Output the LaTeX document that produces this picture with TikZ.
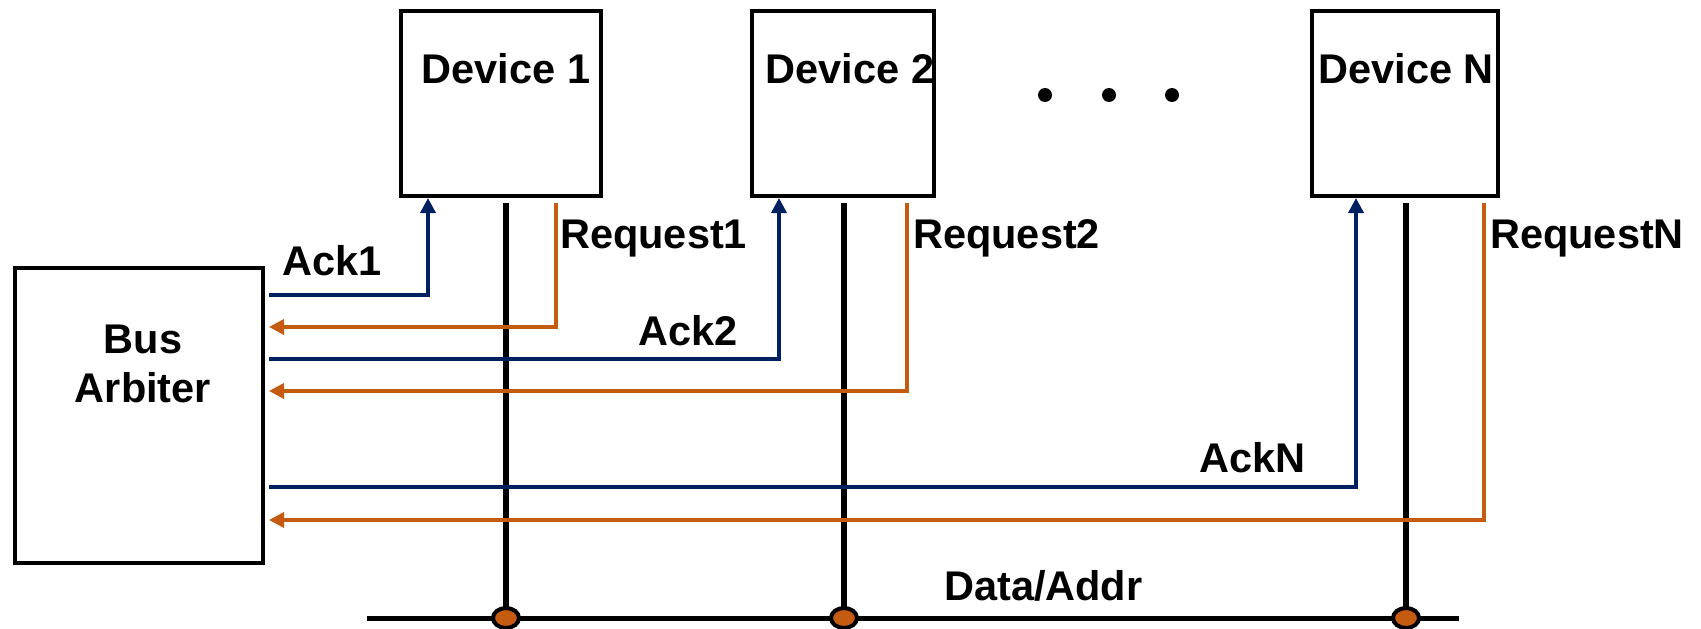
\documentclass[tikz,border=0pt]{standalone}
\usepackage{fontspec}
\setmainfont{Liberation Sans}
\usetikzlibrary{arrows.meta,shapes.geometric}
\definecolor{ackblue}{RGB}{0,32,96}
\definecolor{reqorange}{RGB}{197,90,17}
\begin{document}
\begin{tikzpicture}[x=1pt,y=-1pt,
  box/.style={draw=black,line width=4pt,fill=white,inner sep=0pt},
  lbl/.style={font=\fontsize{41.5}{48}\selectfont\bfseries,inner sep=0pt,anchor=base west},
  clbl/.style={font=\fontsize{41.5}{48}\selectfont\bfseries,inner sep=0pt,anchor=base},
  ack/.style={draw=ackblue,line width=3.5pt,-{Triangle[length=15pt,width=15pt]},shorten <=4pt},
  req/.style={draw=reqorange,line width=3.5pt,-{Triangle[length=15pt,width=15pt]},shorten <=5pt,shorten >=4pt},
  dline/.style={draw=black,line width=5.5pt,shorten <=5pt},
  busline/.style={draw=black,line width=5pt},
  tap/.style={ellipse,draw=black,line width=4pt,fill=reqorange,minimum width=26pt,minimum height=20pt,inner sep=0pt},
  dot/.style={circle,fill=black,minimum size=14pt,inner sep=0pt}
]
\useasboundingbox (0,0) rectangle (1701,629);

% boxes
\node[box,minimum width=248pt,minimum height=295pt] (arb) at (139,415.5) {};
\node[box,minimum width=200pt,minimum height=185pt] (d1) at (501,103.5) {};
\node[box,minimum width=182pt,minimum height=185pt] (d2) at (843,103.5) {};
\node[box,minimum width=186pt,minimum height=185pt] (dN) at (1405,103.5) {};

% box texts
\node[clbl] (arbt1) at (143,353) {Bus};
\node[clbl] (arbt2) at (143,402) {Arbiter};
\node[clbl] (d1t) at (506,83) {Device 1};
\node[clbl] (d2t) at (850,83) {Device 2};
\node[clbl] (dNt) at (1406,83) {Device N};

% ellipsis dots
\node[dot] (dot1) at (1045,95) {};
\node[dot] (dot2) at (1109,95) {};
\node[dot] (dot3) at (1172,95) {};

% wire positions
\coordinate (a1) at (428,295);
\coordinate (r1) at (556,327);
\coordinate (a2) at (779,359);
\coordinate (r2) at (907,391);
\coordinate (aN) at (1356,487);
\coordinate (rN) at (1484,520);

% bus
\coordinate (busL) at (367,618);
\coordinate (busR) at (1459,618);
\draw[busline] (busL) -- (busR);

\coordinate (t1p) at (506,618);
\coordinate (t2p) at (844,618);
\coordinate (tNp) at (1406,618);

% data lines from devices to bus
\draw[dline] (d1.south -| t1p) -- (t1p);
\draw[dline] (d2.south -| t2p) -- (t2p);
\draw[dline] (dN.south -| tNp) -- (tNp);

% ack wires
\draw[ack] (arb.east |- a1) -| (d1.south -| a1);
\draw[ack] (arb.east |- a2) -| (d2.south -| a2);
\draw[ack] (arb.east |- aN) -| (dN.south -| aN);

% request wires
\draw[req] (d1.south -| r1) |- (arb.east |- r1);
\draw[req] (d2.south -| r2) |- (arb.east |- r2);
\draw[req] (dN.south -| rN) |- (arb.east |- rN);

% taps
\node[tap] (t1) at (t1p) {};
\node[tap] (t2) at (t2p) {};
\node[tap] (tN) at (tNp) {};

% labels
\node[lbl] (ack1l) at (282,275) {Ack1};
\node[lbl] (req1l) at (560,248) {Request1};
\node[lbl] (ack2l) at (638,345) {Ack2};
\node[lbl] (req2l) at (913,248) {Request2};
\node[lbl] (ackNl) at (1199,472) {AckN};
\node[lbl] (reqNl) at (1490,248) {RequestN};
\node[lbl] (datal) at (944,600) {Data/Addr};
\end{tikzpicture}
\end{document}
